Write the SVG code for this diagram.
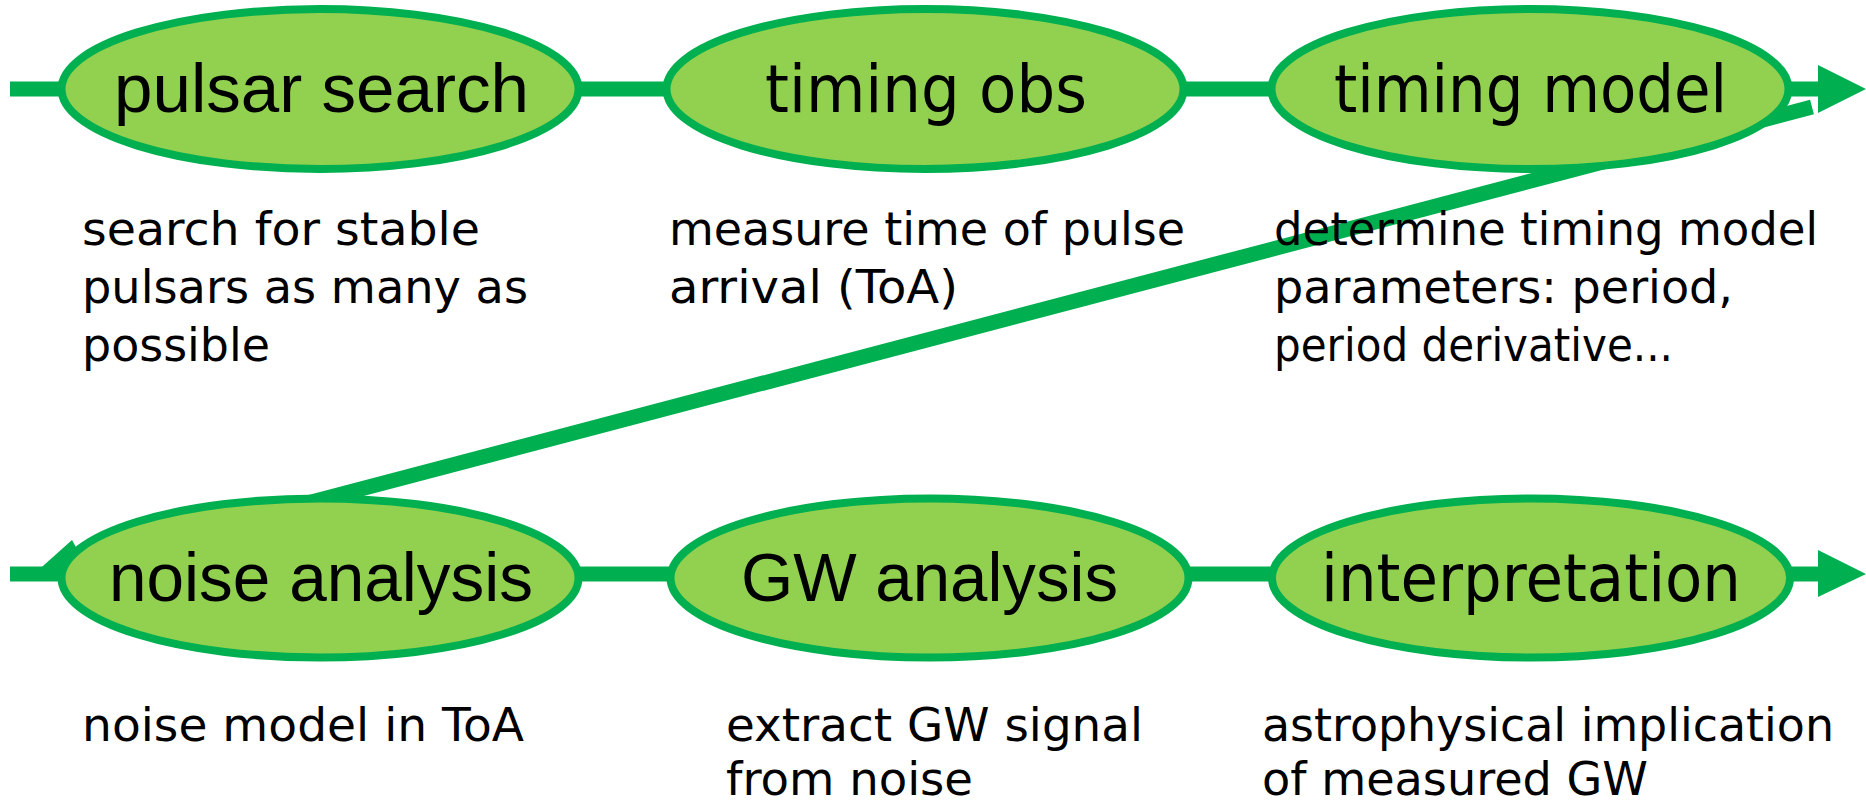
<svg xmlns="http://www.w3.org/2000/svg" width="1866" height="805" viewBox="0 0 1866 805">
<style>
.node{fill:#92D050;stroke:#00B050;stroke-width:8}
.conn{stroke:#00B050;stroke-width:15;fill:none}
.head{fill:#00B050}
.lbl1{font-family:"Liberation Sans",Arial,sans-serif;font-size:69px;fill:#000}
.lbl2{font-family:"DejaVu Sans",sans-serif;font-size:65px;fill:#000}
.desc{font-family:"DejaVu Sans",sans-serif;font-size:46px;fill:#000}
</style>
<rect width="1866" height="805" fill="#fff"/>
<g id="connectors">
  <line class="conn" x1="10" y1="89" x2="1820" y2="89"/>
  <polygon class="head" points="1818,65 1866,89 1818,113"/>
  <line class="conn" x1="10" y1="574" x2="1820" y2="574"/>
  <polygon class="head" points="1818,550 1866,574 1818,597"/>
  <polygon class="head" points="34,574 72,540 77,549 90,574"/>
  <line class="conn" x1="300" y1="505" x2="1812" y2="107"/>
</g>
<g id="node-pulsar-search">
  <ellipse class="node" cx="320" cy="89" rx="258.5" ry="80"/>
  <text class="lbl1" x="114" y="112" textLength="415" lengthAdjust="spacingAndGlyphs">pulsar search</text>
  <text class="desc" x="82" y="245" textLength="398" lengthAdjust="spacingAndGlyphs">search for stable</text>
  <text class="desc" x="82" y="303" textLength="446" lengthAdjust="spacingAndGlyphs">pulsars as many as</text>
  <text class="desc" x="82" y="361" textLength="188" lengthAdjust="spacingAndGlyphs">possible</text>
</g>
<g id="node-timing-obs">
  <ellipse class="node" cx="925" cy="89" rx="258.5" ry="80"/>
  <text class="lbl2" x="765" y="112" textLength="322" lengthAdjust="spacingAndGlyphs">timing obs</text>
  <text class="desc" x="669" y="245" textLength="516" lengthAdjust="spacingAndGlyphs">measure time of pulse</text>
  <text class="desc" x="669" y="303" textLength="289" lengthAdjust="spacingAndGlyphs">arrival (ToA)</text>
</g>
<g id="node-timing-model">
  <ellipse class="node" cx="1530" cy="89" rx="258.5" ry="80"/>
  <text class="lbl2" x="1334" y="112" textLength="393" lengthAdjust="spacingAndGlyphs">timing model</text>
  <text class="desc" x="1274" y="245" textLength="544" lengthAdjust="spacingAndGlyphs">determine timing model</text>
  <text class="desc" x="1274" y="303" textLength="459" lengthAdjust="spacingAndGlyphs">parameters: period,</text>
  <text class="desc" x="1274" y="361" textLength="399" lengthAdjust="spacingAndGlyphs">period derivative...</text>
</g>
<g id="node-noise-analysis">
  <ellipse class="node" cx="320" cy="578" rx="258.5" ry="79.5"/>
  <text class="lbl1" x="109" y="601" textLength="424" lengthAdjust="spacingAndGlyphs">noise analysis</text>
  <text class="desc" x="82" y="741" textLength="442" lengthAdjust="spacingAndGlyphs">noise model in ToA</text>
</g>
<g id="node-gw-analysis">
  <ellipse class="node" cx="929.5" cy="578" rx="259" ry="79.5"/>
  <text class="lbl1" x="741" y="601" textLength="377" lengthAdjust="spacingAndGlyphs">GW analysis</text>
  <text class="desc" x="726" y="741" textLength="417" lengthAdjust="spacingAndGlyphs">extract GW signal</text>
  <text class="desc" x="726" y="795" textLength="247" lengthAdjust="spacingAndGlyphs">from noise</text>
</g>
<g id="node-interpretation">
  <ellipse class="node" cx="1531" cy="578" rx="259" ry="79.5"/>
  <text class="lbl2" x="1321" y="601" textLength="420" lengthAdjust="spacingAndGlyphs">interpretation</text>
  <text class="desc" x="1262" y="741" textLength="572" lengthAdjust="spacingAndGlyphs">astrophysical implication</text>
  <text class="desc" x="1262" y="795" textLength="386" lengthAdjust="spacingAndGlyphs">of measured GW</text>
</g>
</svg>
